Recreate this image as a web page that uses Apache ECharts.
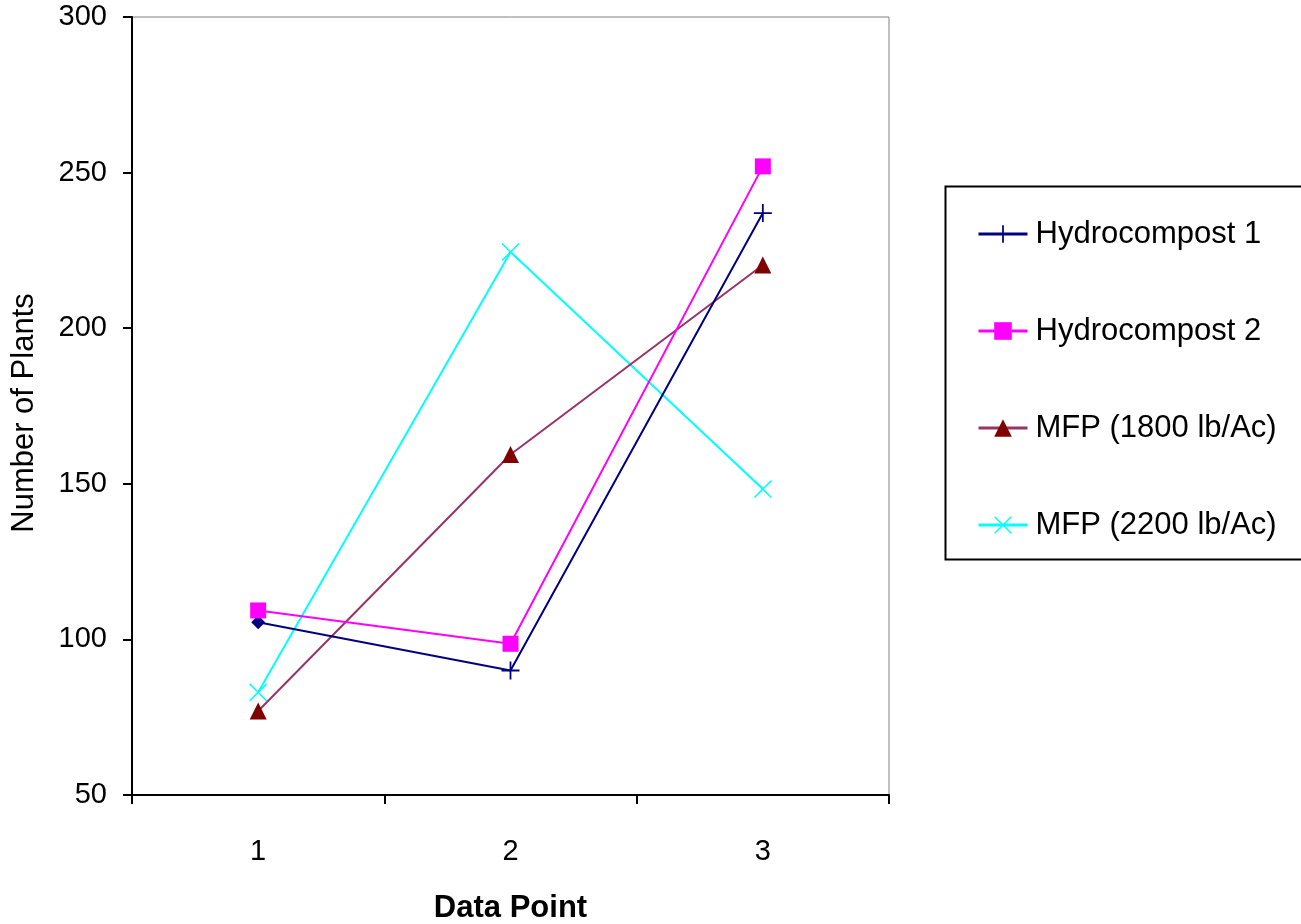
<!DOCTYPE html>
<html>
<head>
<meta charset="utf-8">
<script src="https://cdn.jsdelivr.net/npm/echarts@6/dist/echarts.min.js"></script>
<style>html,body{margin:0;padding:0;background:#fff;}#c{width:1301px;height:924px;}</style>
</head>
<body>
<div id="c"></div>
<script>
const categories = ['1', '2', '3'];
const hydro1 = [105.5, 90, 237];
const hydro2 = [109.3, 98.6, 252];
const mfp1800 = [77, 159.4, 220.3];
const mfp2200 = [83, 224.5, 148.3];
const seriesNames = ['Hydrocompost 1', 'Hydrocompost 2', 'MFP (1800 lb/Ac)', 'MFP (2200 lb/Ac)'];

const plusPath = 'path://M-1,-10L1,-10L1,-1L10,-1L10,1L1,1L1,10L-1,10L-1,1L-10,1L-10,-1L-1,-1Z';
const xPath = 'path://M-10,-8.8L-8.8,-10L0,-1.2L8.8,-10L10,-8.8L1.2,0L10,8.8L8.8,10L0,1.2L-8.8,10L-10,8.8L-1.2,0Z';
const FONT = 'Liberation Sans, Arial, sans-serif';

const chart = echarts.init(document.getElementById('c'), null, {renderer: 'canvas'});
chart.setOption({
  animation: false,
  backgroundColor: '#ffffff',
  textStyle: {fontFamily: FONT},
  grid: {left: 132, right: 412, top: 17, bottom: 129, containLabel: false, outerBoundsMode: 'none',
         show: true, borderColor: '#808080', borderWidth: 1, backgroundColor: 'transparent'},
  graphic: [{
    type: 'rect', left: 943, top: 184,
    shape: {width: 357, height: 373},
    style: {fill: 'none', stroke: '#000', lineWidth: 2}, z: 0
  }],
  legend: {
    orient: 'vertical', left: 977, top: 217, padding: 0,
    itemWidth: 49, itemHeight: 22, itemGap: 63,
    lineStyle: {width: 3},
    textStyle: {fontSize: 31, color: '#000', fontFamily: FONT, lineHeight: 30, padding: [4, 0, 0, 3]},
    data: seriesNames
  },
  xAxis: {
    type: 'category', data: categories, boundaryGap: true,
    axisLine: {lineStyle: {color: '#000', width: 2}},
    axisTick: {show: true, length: 9, inside: false, lineStyle: {color: '#000', width: 2}},
    axisLabel: {fontSize: 29, color: '#000', margin: 42, fontFamily: FONT},
    name: 'Data Point', nameLocation: 'middle', nameGap: 98,
    nameTextStyle: {fontSize: 31, fontWeight: 'bold', color: '#000', fontFamily: FONT},
    splitLine: {show: false}
  },
  yAxis: {
    type: 'value', min: 50, max: 300, interval: 50,
    axisLine: {show: true, lineStyle: {color: '#000', width: 2}},
    axisTick: {show: true, length: 9, lineStyle: {color: '#000', width: 2}},
    axisLabel: {fontSize: 29, color: '#000', margin: 25, fontFamily: FONT},
    splitLine: {show: false},
    name: 'Number of Plants', nameLocation: 'middle', nameGap: 92,
    nameTextStyle: {fontSize: 31, color: '#000', fontFamily: FONT, padding: [0, 14, 0, 0]}
  },
  series: [
    {
      name: seriesNames[0], type: 'line', data: hydro1.map((v, i) => i === 0 ? {value: v, symbol: 'diamond', symbolSize: 14} : v),
      symbol: plusPath, symbolSize: 18, showAllSymbol: true,
      lineStyle: {color: '#000080', width: 2}, itemStyle: {color: '#000080'}, z: 4
    },
    {
      name: seriesNames[1], type: 'line', data: hydro2,
      symbol: 'rect', symbolSize: 16,
      lineStyle: {color: '#FF00FF', width: 2}, itemStyle: {color: '#FF00FF'}, z: 5
    },
    {
      name: seriesNames[2], type: 'line', data: mfp1800,
      symbol: 'triangle', symbolSize: [17, 17],
      lineStyle: {color: '#993366', width: 2}, itemStyle: {color: '#800000'}, z: 3
    },
    {
      name: seriesNames[3], type: 'line', data: mfp2200,
      symbol: xPath, symbolSize: 18,
      lineStyle: {color: '#00FFFF', width: 2}, itemStyle: {color: '#00FFFF'}, z: 2
    }
  ]
});
</script>
</body>
</html>
